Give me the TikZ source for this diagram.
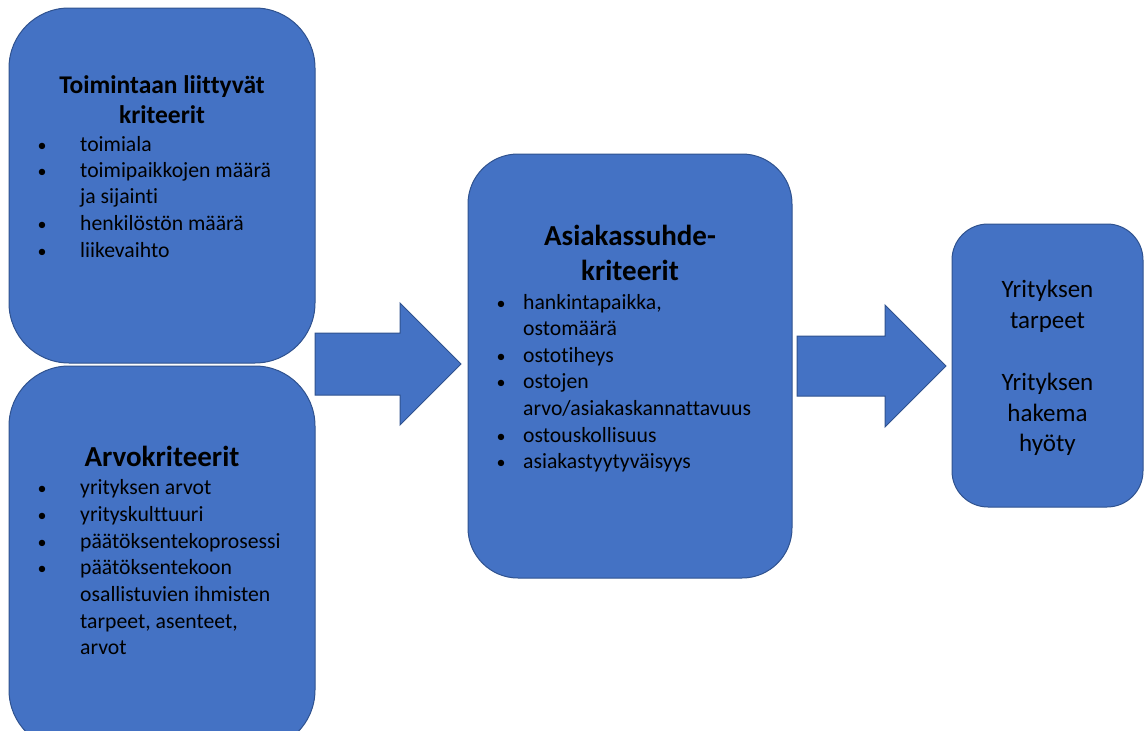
\documentclass[tikz,border=0pt]{standalone}
\usepackage{fontspec}
\setmainfont{Carlito}[Ligatures={NoCommon}]
\definecolor{boxfill}{HTML}{4472C4}
\definecolor{boxline}{HTML}{2F528F}
\begin{document}
\begin{tikzpicture}[x=1pt,y=-1pt,
  box/.style={draw=boxline, line width=1pt, fill=boxfill, rectangle, inner sep=0pt},
  blockarrow/.style={draw=boxline, line width=1pt, fill=boxfill, line join=miter},
  ttl/.style={font=\fontsize{25.5}{30}\selectfont\bfseries, anchor=base, inner sep=0pt},
  bigttl/.style={font=\fontsize{29}{34}\selectfont\bfseries, anchor=base, inner sep=0pt},
  itm/.style={font=\fontsize{21.7}{26}\selectfont, anchor=base west, inner sep=0pt},
  bul/.style={font=\fontsize{18}{22}\selectfont, anchor=base, inner sep=0pt},
  res/.style={font=\fontsize{25}{30}\selectfont, anchor=base, inner sep=0pt}]
\useasboundingbox (0,0) rectangle (1144,731);
\begin{scope}
\clip (0,0) rectangle (1144,731);
% boxes
\node[box, rounded corners=60pt, minimum width=306pt, minimum height=355pt] (b1) at (162,185.5) {};
\node[box, rounded corners=60pt, minimum width=306pt, minimum height=384pt] (b2) at (162,558) {};
\node[box, rounded corners=50pt, minimum width=324pt, minimum height=424pt] (b3) at (630,366) {};
\node[box, rounded corners=36pt, minimum width=191pt, minimum height=283pt] (b4) at (1047.5,365.5) {};
% block arrows
\draw[blockarrow] (315,333) -- (400,333) -- (400,303) -- (461,364) -- (400,425) -- (400,395) -- (315,395) -- cycle;
\draw[blockarrow] (797,336) -- (885,336) -- (885,305) -- (946,366) -- (885,427) -- (885,396) -- (797,396) -- cycle;
\end{scope}
% box 1 text
\node[ttl] (t1a) at (162,93) {Toimintaan liittyvät};
\node[ttl] (t1b) at (162,123) {kriteerit};
\foreach \yy [count=\i] in {151,177,230,257}{
  \node[bul] (b1b\i) at (42,\yy) {•};
}
\node[itm] (i1a) at (80,151) {toimiala};
\node[itm] (i1b) at (80,177) {toimipaikkojen määrä};
\node[itm] (i1c) at (80,203) {ja sijainti};
\node[itm] (i1d) at (80,230) {henkilöstön määrä};
\node[itm] (i1e) at (80,257) {liikevaihto};
% box 2 text
\node[bigttl] (t2) at (162,466) {Arvokriteerit};
\foreach \yy [count=\i] in {494,521,548,574}{
  \node[bul] (b2b\i) at (42,\yy) {•};
}
\node[itm] (i2a) at (80,494) {yrityksen arvot};
\node[itm] (i2b) at (80,521) {yrityskulttuuri};
\node[itm] (i2c) at (80,548) {päätöksentekoprosessi};
\node[itm] (i2d) at (80,574) {päätöksentekoon};
\node[itm] (i2e) at (80,601) {osallistuvien ihmisten};
\node[itm] (i2f) at (80,628) {tarpeet, asenteet,};
\node[itm] (i2g) at (80,654) {arvot};
% box 3 text
\node[bigttl] (t3a) at (630,245) {Asiakassuhde-};
\node[bigttl] (t3b) at (630,280) {kriteerit};
\foreach \yy [count=\i] in {309,362,388,442,468}{
  \node[bul] (b3b\i) at (501,\yy) {•};
}
\node[itm] (i3a) at (523,309) {hankintapaikka,};
\node[itm] (i3b) at (523,335) {ostomäärä};
\node[itm] (i3c) at (523,362) {ostotiheys};
\node[itm] (i3d) at (523,388) {ostojen};
\node[itm] (i3e) at (523,415) {arvo/asiakaskannattavuus};
\node[itm] (i3f) at (523,442) {ostouskollisuus};
\node[itm] (i3g) at (523,468) {asiakastyytyväisyys};
% box 4 text
\node[res] (r1) at (1047.5,297) {Yrityksen};
\node[res] (r2) at (1047.5,328) {tarpeet};
\node[res] (r3) at (1047.5,390) {Yrityksen};
\node[res] (r4) at (1047.5,421) {hakema};
\node[res] (r5) at (1047.5,451) {hyöty};
\end{tikzpicture}
\end{document}
